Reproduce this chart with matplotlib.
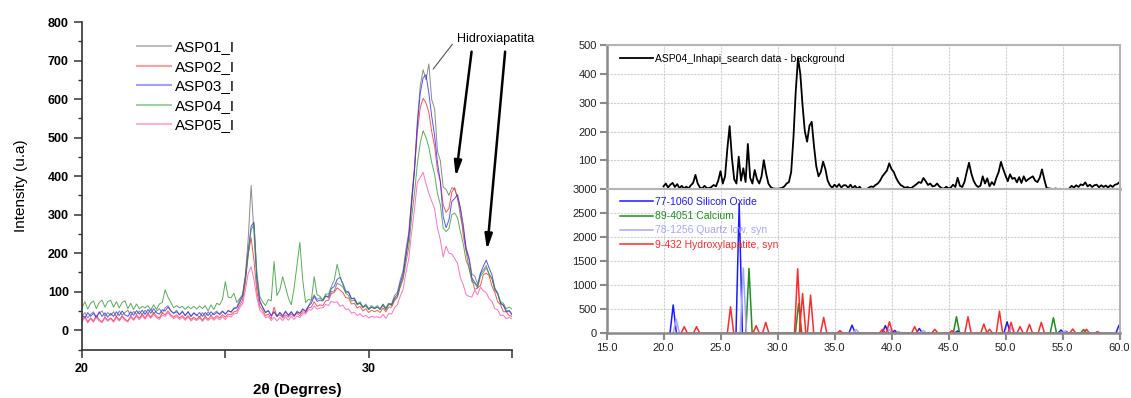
import numpy as np
import matplotlib
matplotlib.use("Agg")
import matplotlib.pyplot as plt
from matplotlib.ticker import MultipleLocator, FormatStrFormatter

plt.rcParams["font.family"] = ["Liberation Sans", "DejaVu Sans"]

# Left panel: diffractograms, 2theta 20..35 every 0.1 deg
two_theta = np.round(np.arange(20.0, 35.05, 0.1), 1)

asp01 = [
    36, 46, 32, 42, 48, 34, 44, 50, 36, 46,
    38, 48, 35, 50, 39, 46, 52, 37, 49, 41,
    50, 40, 52, 42, 55, 43, 50, 56, 44, 58,
    64, 50, 44, 52, 40, 50, 38, 48, 36, 46,
    40, 34, 46, 36, 48, 38, 44, 50, 40, 48,
    42, 52, 46, 58, 60, 78, 92, 145, 240, 376,
    250, 120, 72, 60, 46, 52, 38, 48, 36, 46,
    38, 50, 40, 48, 36, 50, 44, 56, 48, 62,
    78, 92, 80, 84, 78, 90, 84, 100, 102, 122,
    118, 112, 98, 100, 82, 84, 68, 74, 60, 68,
    56, 64, 58, 64, 56, 68, 58, 70, 68, 90,
    98, 130, 155, 210, 255, 345, 425, 545, 635, 676,
    650, 691, 598, 575, 465, 440, 372, 366, 350, 370,
    366, 345, 296, 262, 214, 190, 146, 140, 120, 146,
    156, 168, 146, 134, 104, 94, 70, 66, 50, 52,
    42,
]
asp02 = [
    26, 36, 22, 32, 24, 38, 28, 22, 34, 26,
    32, 24, 36, 27, 38, 29, 24, 37, 28, 40,
    31, 42, 32, 44, 34, 46, 36, 32, 45, 40,
    50, 40, 34, 40, 32, 38, 30, 38, 28, 34,
    28, 36, 26, 36, 28, 38, 30, 38, 32, 40,
    34, 42, 40, 48, 50, 64, 78, 122, 198, 240,
    180, 100, 62, 52, 38, 42, 30, 60, 36, 40,
    32, 40, 34, 42, 36, 44, 38, 48, 46, 58,
    60, 74, 62, 66, 64, 76, 78, 95, 98, 110,
    104, 98, 84, 84, 68, 70, 58, 62, 50, 56,
    46, 52, 48, 52, 46, 58, 48, 60, 60, 76,
    86, 114, 138, 190, 238, 325, 418, 515, 578, 602,
    590, 565, 515, 478, 415, 386, 325, 306, 316, 358,
    370, 342, 314, 246, 204, 160, 134, 106, 110, 116,
    144, 148, 142, 114, 98, 74, 66, 48, 48, 38,
    36,
]
asp03 = [
    40, 32, 46, 36, 44, 32, 48, 36, 45, 34,
    44, 36, 48, 38, 50, 40, 36, 48, 39, 51,
    42, 52, 41, 54, 44, 56, 45, 42, 53, 50,
    60, 50, 44, 48, 40, 48, 38, 48, 36, 44,
    38, 46, 36, 46, 38, 48, 40, 46, 42, 50,
    42, 50, 48, 56, 58, 72, 88, 138, 208, 270,
    280, 140, 78, 60, 46, 50, 38, 48, 36, 46,
    36, 48, 38, 48, 38, 47, 44, 54, 50, 63,
    70, 88, 75, 78, 76, 88, 88, 108, 114, 132,
    137, 122, 102, 98, 82, 82, 68, 70, 60, 64,
    54, 60, 56, 60, 54, 66, 54, 68, 66, 84,
    92, 122, 146, 195, 246, 335, 416, 535, 616, 655,
    663, 615, 555, 505, 435, 386, 295, 266, 286, 334,
    342, 352, 318, 274, 210, 184, 136, 124, 114, 148,
    166, 182, 162, 144, 110, 96, 70, 64, 48, 50,
    40,
]
asp04 = [
    58, 74, 55, 70, 76, 56, 72, 78, 60, 74,
    78, 60, 74, 58, 72, 76, 56, 70, 54, 68,
    56, 62, 58, 64, 52, 66, 54, 68, 72, 105,
    86, 72, 58, 64, 58, 62, 54, 62, 56, 62,
    55, 63, 56, 64, 50, 66, 54, 70, 66, 80,
    126, 86, 84, 96, 72, 82, 92, 134, 196, 260,
    275, 150, 88, 74, 64, 80, 76, 178, 90, 104,
    139, 112, 84, 66, 110, 170, 228, 130, 72, 80,
    78, 139, 92, 88, 78, 94, 94, 114, 130, 171,
    140, 118, 96, 90, 76, 78, 66, 70, 58, 64,
    54, 60, 56, 60, 54, 66, 54, 68, 64, 80,
    86, 112, 132, 175, 216, 294, 356, 434, 486, 518,
    500, 475, 435, 405, 355, 326, 265, 256, 264, 300,
    304, 292, 256, 224, 180, 164, 126, 122, 110, 140,
    150, 162, 146, 134, 106, 96, 74, 70, 56, 60,
    55,
]
asp05 = [
    22, 33, 19, 30, 21, 34, 24, 20, 32, 23,
    30, 21, 33, 24, 35, 25, 22, 34, 26, 36,
    27, 38, 29, 40, 31, 41, 32, 28, 39, 36,
    46, 36, 30, 35, 28, 34, 26, 34, 24, 30,
    25, 32, 23, 32, 25, 33, 26, 33, 27, 35,
    28, 37, 34, 43, 43, 58, 68, 104, 148, 165,
    130, 85, 52, 45, 33, 35, 25, 34, 24, 33,
    25, 35, 26, 36, 28, 37, 33, 43, 42, 53,
    52, 63, 55, 58, 58, 67, 64, 75, 72, 74,
    62, 65, 54, 55, 44, 47, 38, 43, 35, 39,
    32, 36, 34, 35, 32, 41, 31, 43, 42, 58,
    66, 88, 106, 150, 186, 255, 316, 385, 396, 410,
    380, 355, 335, 315, 265, 235, 190, 218, 200, 198,
    186, 174, 136, 118, 92, 88, 86, 104, 92, 112,
    102, 98, 82, 75, 56, 53, 38, 39, 30, 33,
    30,
]
sample_names = ["ASP01_I", "ASP02_I", "ASP03_I", "ASP04_I", "ASP05_I"]
sample_colors = ["#6e6e6e", "#ff2a2a", "#2a2aff", "#2e9a2e", "#ff4fb0"]

# Right panel, top: ASP04 minus background, 20..60 every 0.2 deg
search_theta = np.round(np.arange(20.0, 60.05, 0.2), 1)
search_counts = [
    10, 20, 6, 16, 22, 8, 18, 4, 12, 3,
    9, 3, 14, 22, 50, 20, 6, 3, 12, 4,
    4, 8, 15, 10, 30, 63, 20, 45, 140, 219,
    110, 35, 20, 113, 30, 73, 25, 157, 40, 20,
    67, 35, 20, 45, 101, 55, 20, 8, 3, 2,
    2, 3, 5, 10, 20, 25, 60, 180, 340, 455,
    400, 290, 200, 165, 220, 234, 150, 80, 45, 60,
    96, 70, 30, 14, 5, 16, 8, 18, 6, 14,
    14, 5, 16, 4, 12, 2, 9, 0, 0, 0,
    5, 10, 8, 15, 20, 30, 45, 55, 65, 90,
    70, 60, 40, 25, 15, 10, 5, 8, 4, 6,
    12, 18, 25, 22, 39, 28, 15, 20, 10, 12,
    20, 10, 4, 2, 9, 3, 6, 16, 8, 40,
    12, 8, 25, 60, 92, 55, 30, 15, 8, 12,
    45, 20, 38, 10, 25, 15, 40, 60, 95, 70,
    48, 28, 52, 36, 40, 24, 42, 22, 45, 28,
    35, 40, 45, 30, 25, 40, 69, 35, 5, 3,
    2, 0, 3, 0, 2, 0, 1, 0, 3, 12,
    6, 14, 8, 17, 14, 24, 10, 16, 8, 14,
    16, 7, 14, 8, 13, 6, 14, 8, 16, 18,
    25,
]

# Right panel, bottom: reference patterns (peak position, height)
silicon_oxide_pos = [20.85, 26.64, 36.54, 39.46, 40.28, 42.44, 45.8, 50.14,
                     54.87, 55.3, 59.96]
silicon_oxide_h = [590, 2700, 170, 160, 60, 100, 50, 240, 70, 40, 170]
calcium_pos = [27.5, 31.85, 45.7, 54.2, 56.85]
calcium_h = [1350, 620, 345, 325, 80]
quartz_pos = [21.12, 27.0, 36.9, 39.8, 40.6, 42.8, 50.5, 55.2]
quartz_h = [290, 1360, 80, 80, 40, 60, 120, 45]
hap_pos = [21.82, 22.9, 25.88, 28.13, 28.97, 31.77, 32.2, 32.9, 34.05, 35.48,
           39.2, 39.82, 42.03, 43.8, 45.3, 46.71, 48.1, 48.6, 49.47, 50.49,
           51.28, 52.1, 53.14, 55.9, 57.1, 58.07]
hap_h = [138, 138, 552, 160, 228, 1345, 828, 794, 331, 55,
         83, 241, 138, 83, 55, 345, 193, 83, 462, 228,
         138, 186, 228, 90, 83, 35]
ref_names = ["77-1060 Silicon Oxide", "89-4051 Calcium",
             "78-1256 Quartz low, syn", "9-432 Hydroxylapatite, syn"]
ref_colors = ["#1a1aff", "#1f8f1f", "#a6a6ff", "#ff2a2a"]


def peak_line(pos, heights, half=0.28):
    """Turn a stick pattern into a polyline of narrow triangles."""
    xs, ys = [], []
    for p, h in zip(pos, heights):
        xs += [p - half, p, p + half]
        ys += [0, h, 0]
    return xs, ys


W, H = 1131, 398
fig = plt.figure(figsize=(W / 100, H / 100), dpi=100)

# ---- left panel
ax = fig.add_axes([82 / W, 1 - 349.5 / H, 430 / W, 327.5 / H])
for vals, name, color in zip([asp01, asp02, asp03, asp04, asp05],
                             sample_names, sample_colors):
    ax.plot(two_theta, vals, color=color, lw=0.7, alpha=0.8, label=name)
ax.set_xlim(20, 35)
ax.set_ylim(-50, 800)
ax.spines[["top", "right"]].set_visible(False)
for s in ("left", "bottom"):
    ax.spines[s].set_color("#333333")
    ax.spines[s].set_linewidth(1.2)
ax.set_xticks([20, 25, 30, 35])
ax.set_xticklabels(["20", "", "30", ""])
ax.yaxis.set_major_locator(MultipleLocator(100))
ax.yaxis.set_minor_locator(MultipleLocator(50))
ax.tick_params(axis="both", which="major", length=6, width=1.1,
               color="#333333", labelsize=9)
ax.tick_params(axis="y", which="minor", length=3, width=1.0, color="#333333")
for lab in ax.get_xticklabels() + ax.get_yticklabels():
    lab.set_fontweight("bold")
ax.set_ylabel("Intensity (u.a)", fontsize=11, labelpad=14)
ax.set_xlabel("2θ (Degrres)", fontsize=11, fontweight="bold", labelpad=6)
leg = ax.legend(loc="upper left", bbox_to_anchor=(137 / W, 1 - 40.5 / H),
                bbox_transform=fig.transFigure, frameon=False, fontsize=11,
                handlelength=2.2, handletextpad=0.3, labelspacing=0.36,
                borderpad=0, borderaxespad=0)
for line in leg.get_lines():
    line.set_alpha(0.45)
    line.set_linewidth(1.5)

ax.text(33.08, 756, "Hidroxiapatita", fontsize=9, va="center", ha="left")
ax.annotate("", xy=(32.19, 672), xytext=(32.98, 748),
            arrowprops=dict(arrowstyle="-", color="#555555", lw=0.8))
for tip, start in [((33.04, 398), (33.59, 723)), ((34.13, 208), (34.76, 723))]:
    ax.annotate("", xy=tip, xytext=start,
                arrowprops=dict(arrowstyle="-|>,head_length=0.9,head_width=0.22",
                                color="black", lw=1.8, shrinkA=0, shrinkB=0))

# ---- right panels
grid_kw = dict(color="#cfcfcf", lw=0.8, linestyle=(0, (2, 1)))


def style_right(a):
    a.set_xlim(15, 60)
    a.xaxis.set_major_locator(MultipleLocator(5))
    a.xaxis.set_major_formatter(FormatStrFormatter("%.1f"))
    a.grid(True, **grid_kw)
    a.set_axisbelow(True)
    for s in ("left", "bottom"):
        a.spines[s].set_color("#8a8a8a")
        a.spines[s].set_linewidth(1.8)
    for s in ("top", "right"):
        a.spines[s].set_color("#b3b3b3")
        a.spines[s].set_linewidth(1.5)
    a.tick_params(axis="both", length=5, width=1.5, color="#8a8a8a",
                  labelsize=8, labelcolor="#222222", pad=2)


axt = fig.add_axes([606.5 / W, 1 - 189.3 / H, 513 / W, 144.3 / H])
style_right(axt)
axt.plot(search_theta, search_counts, color="black", lw=1.3,
         label="ASP04_Inhapi_search data - background")
axt.set_ylim(0, 500)
axt.set_yticks([100, 200, 300, 400, 500])
axt.tick_params(axis="x", length=0, labelbottom=False)
axt.legend(loc="upper left", bbox_to_anchor=(620 / W, 1 - 54 / H),
           bbox_transform=fig.transFigure, frameon=False, fontsize=7.5,
           handlelength=3.2, handletextpad=0.2, borderpad=0, borderaxespad=0)

axb = fig.add_axes([606.5 / W, 1 - 333.3 / H, 513 / W, 144 / H])
style_right(axb)
for (pos, hts), name, color in zip(
        [(silicon_oxide_pos, silicon_oxide_h), (calcium_pos, calcium_h),
         (quartz_pos, quartz_h), (hap_pos, hap_h)], ref_names, ref_colors):
    xs, ys = peak_line(pos, hts)
    axb.plot(xs, ys, color=color, lw=1.1, label=name)
axb.set_ylim(0, 3000)
axb.yaxis.set_major_locator(MultipleLocator(500))
axb.spines["bottom"].set_zorder(5)
leg2 = axb.legend(loc="upper left", bbox_to_anchor=(620 / W, 1 - 197 / H),
                  bbox_transform=fig.transFigure, frameon=False, fontsize=7.5,
                  handlelength=3.2, handletextpad=0.2, labelspacing=0.4,
                  borderpad=0, borderaxespad=0)
for text, color in zip(leg2.get_texts(), ref_colors):
    text.set_color(color)

fig.savefig("out.png", dpi=100)
